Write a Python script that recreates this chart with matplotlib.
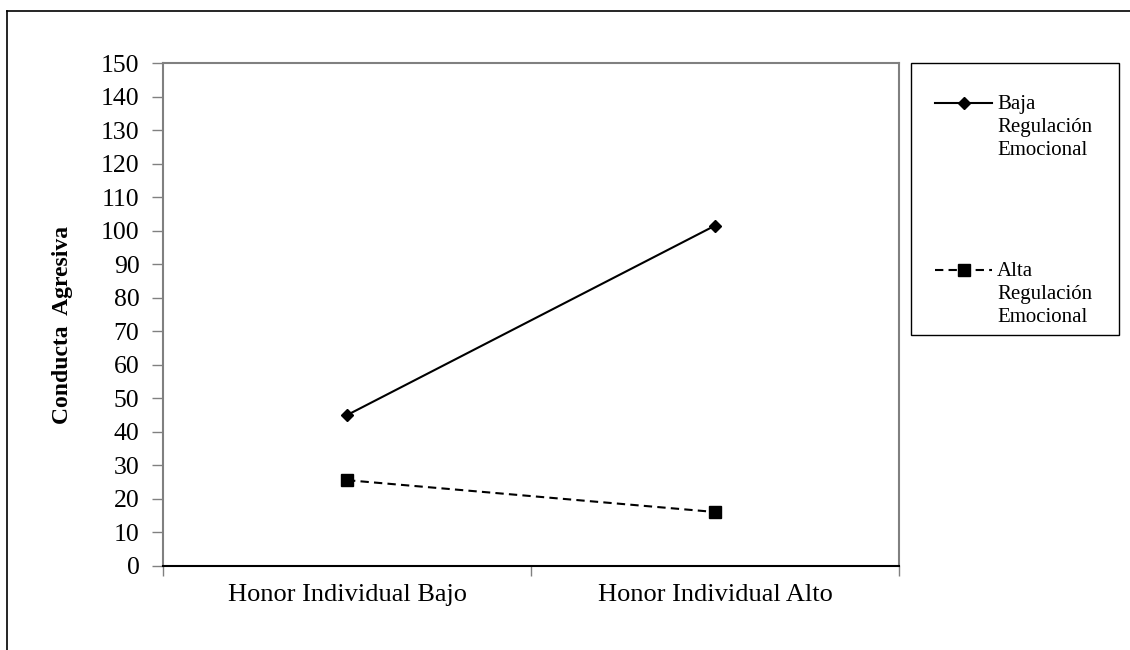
import matplotlib
matplotlib.use('Agg')
import matplotlib.pyplot as plt
from matplotlib.lines import Line2D
from matplotlib.patches import Rectangle

# --- data ---
categories = ['Honor Individual Bajo', 'Honor Individual Alto']
baja_reg = [45.0, 101.5]
alta_reg = [25.6, 16.1]
series_labels = ['Baja\nRegulación\nEmocional', 'Alta\nRegulación\nEmocional']
y_ticks = list(range(0, 151, 10))

W, H = 1130, 650
FONT = 'Liberation Serif'
GRAY = '#808080'

plt.rcParams['font.family'] = FONT

fig = plt.figure(figsize=(W / 100, H / 100), dpi=100, facecolor='white')


def fx(px):
    return px / W


def fy(py):
    return 1 - py / H


# outer frame (top + left visible)
fig.add_artist(Line2D([fx(7), 1], [fy(11), fy(11)], color='black', lw=1.2))
fig.add_artist(Line2D([fx(7), fx(7)], [fy(11), 0], color='black', lw=1.2))

ax = fig.add_axes([fx(163), fy(566), fx(899) - fx(163), fy(63) - fy(566)])
x = list(range(len(categories)))
ax.plot(x, baja_reg, color='black', lw=1.5, marker='D', ms=6.5,
        label=series_labels[0])
ax.plot(x, alta_reg, color='black', lw=1.5, ls=(0, (4, 2.5)), marker='s',
        ms=9, label=series_labels[1])

ax.set_xlim(-0.5, len(categories) - 0.5)
ax.set_ylim(0, 150)
ax.set_yticks(y_ticks)
ax.tick_params(axis='y', direction='out', length=8, width=1, color=GRAY,
               labelsize=18.5, pad=9)
ax.set_xticks(x)
ax.set_xticklabels(categories)
ax.tick_params(axis='x', length=0, labelsize=19, pad=13)
# category boundary ticks
ax.set_xticks([-0.5, 0.5, 1.5], minor=True)
ax.tick_params(axis='x', which='minor', direction='out', length=7, width=1,
               color=GRAY)

for side in ('top', 'right', 'left'):
    ax.spines[side].set_color(GRAY)
    ax.spines[side].set_linewidth(1.5)
ax.spines['bottom'].set_color('black')
ax.spines['bottom'].set_linewidth(1.5)

ax.set_ylabel('Conducta  Agresiva', fontsize=17, fontweight='bold',
              va='center')
ax.yaxis.set_label_coords(-0.137, 0.48)

# legend box
fig.add_artist(Rectangle((fx(911), fy(335)), fx(1119) - fx(911),
                         fy(63) - fy(335), fill=False, edgecolor='black',
                         lw=1.0))
leg_rows = [(103, '-', 'D', 6.5), (270, (0, (4, 2.5)), 's', 9)]
for (ypx, ls, mk, ms), lab in zip(leg_rows, series_labels):
    fig.add_artist(Line2D([fx(935), fx(992)], [fy(ypx), fy(ypx)],
                          color='black', lw=1.5, ls=ls))
    fig.add_artist(Line2D([fx(964)], [fy(ypx)], color='black', marker=mk,
                          ms=ms, lw=0))
    fig.text(fx(997), fy(ypx - 8), lab, fontsize=15, va='top', ha='left',
             linespacing=1.3)

fig.savefig('out.png', dpi=100, facecolor='white')
